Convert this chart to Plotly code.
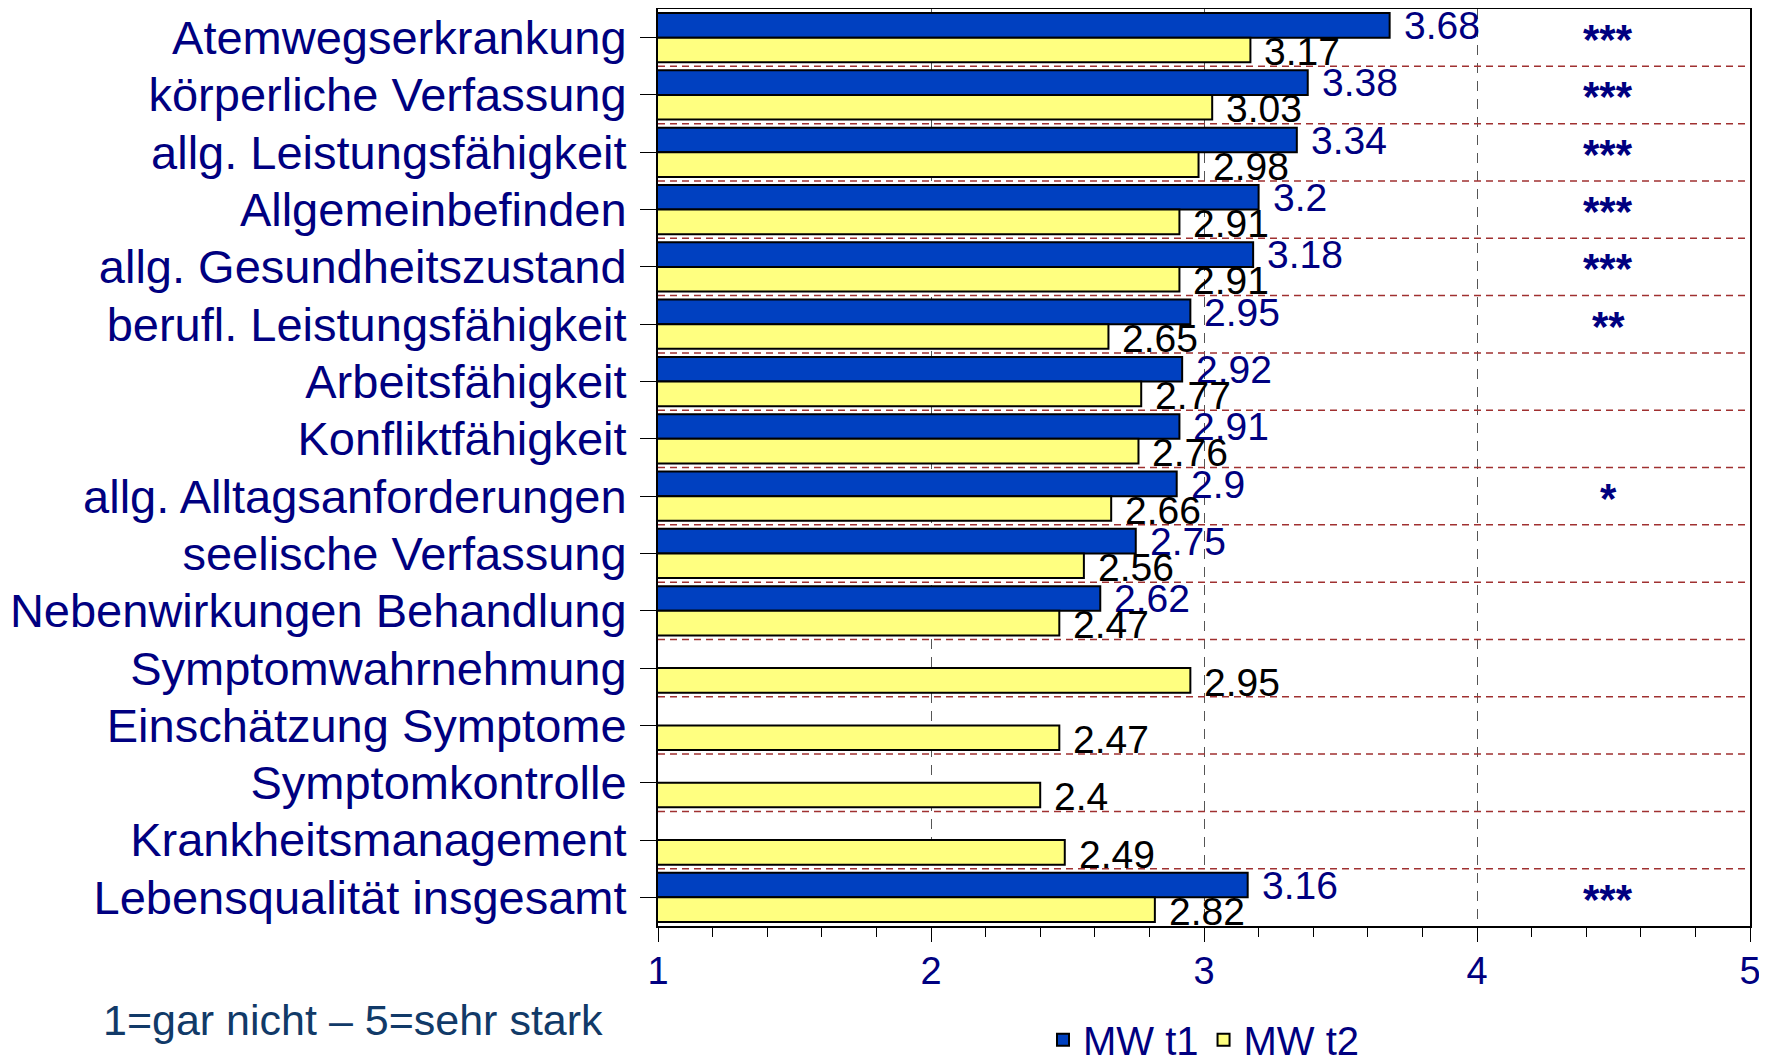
import plotly.graph_objects as go

categories = [
    "Atemwegserkrankung", "körperliche Verfassung", "allg. Leistungsfähigkeit",
    "Allgemeinbefinden", "allg. Gesundheitszustand", "berufl. Leistungsfähigkeit",
    "Arbeitsfähigkeit", "Konfliktfähigkeit", "allg. Alltagsanforderungen",
    "seelische Verfassung", "Nebenwirkungen Behandlung", "Symptomwahrnehmung",
    "Einschätzung Symptome", "Symptomkontrolle", "Krankheitsmanagement",
    "Lebensqualität insgesamt",
]
mw_t1 = [3.68, 3.38, 3.34, 3.2, 3.18, 2.95, 2.92, 2.91, 2.9, 2.75, 2.62,
         None, None, None, None, 3.16]
mw_t2 = [3.17, 3.03, 2.98, 2.91, 2.91, 2.65, 2.77, 2.76, 2.66, 2.56, 2.47,
         2.95, 2.47, 2.4, 2.49, 2.82]
significance = ["***", "***", "***", "***", "***", "**", "", "", "*", "",
                "", "", "", "", "", "***"]
x_ticks = [1, 2, 3, 4, 5]
footnote = "1=gar nicht – 5=sehr stark"

NAVY = "#000080"
BLUE = "#0040C0"
YELLOW = "#FFFF80"
NARROW = "Liberation Sans Narrow, Arial Narrow, Liberation Sans, Arial, sans-serif"
SANS = "Liberation Sans, Arial, sans-serif"

fig = go.Figure()
fig.add_trace(go.Bar(
    name="MW t1", y=categories, x=mw_t1, orientation="h",
    marker=dict(color=BLUE, line=dict(color="black", width=2)),
))
fig.add_trace(go.Bar(
    name="MW t2", y=categories, x=mw_t2, orientation="h",
    marker=dict(color=YELLOW, line=dict(color="black", width=2)),
))

annotations = []
for cat, v in zip(categories, mw_t1):
    if v is not None:
        annotations.append(dict(
            x=v, y=cat, xref="x", yref="y", text=str(v), showarrow=False,
            xanchor="left", yanchor="middle", xshift=12, yshift=12,
            font=dict(family=NARROW, size=39, color=NAVY),
        ))
for cat, v in zip(categories, mw_t2):
    if v is not None:
        annotations.append(dict(
            x=v, y=cat, xref="x", yref="y", text=str(v), showarrow=False,
            xanchor="left", yanchor="middle", xshift=12, yshift=-14,
            font=dict(family=NARROW, size=39, color="black"),
        ))
for cat, s in zip(categories, significance):
    if s:
        annotations.append(dict(
            x=4.48, y=cat, xref="x", yref="y", text="<b>" + s + "</b>",
            showarrow=False, xanchor="center", yanchor="middle", yshift=-2,
            font=dict(family=SANS, size=42, color=NAVY),
        ))
annotations.append(dict(
    x=-0.51, y=-0.1025, xref="paper", yref="paper", text=footnote,
    showarrow=False, xanchor="left", yanchor="middle",
    font=dict(family=SANS, size=43, color="#113A68"),
))

shapes = []
for i in range(len(categories) - 1):
    shapes.append(dict(
        type="line", xref="paper", yref="y", x0=0, x1=1, y0=i + 0.5, y1=i + 0.5,
        line=dict(color="#A03030", width=1.5, dash="7px,5px"), layer="above",
    ))

fig.update_layout(
    width=1759, height=1053,
    margin=dict(l=650, r=17, t=1, b=135, autoexpand=False),
    paper_bgcolor="white", plot_bgcolor="white",
    barmode="group", bargap=0.14, bargroupgap=0,
    showlegend=True,
    legend=dict(orientation="h", x=0.5, xanchor="center", y=-0.124,
                yanchor="middle", font=dict(family=SANS, size=40, color=NAVY),
                bgcolor="rgba(0,0,0,0)"),
    annotations=annotations, shapes=shapes,
)
fig.update_xaxes(
    range=[1, 5], tickvals=x_ticks, ticktext=[str(t) for t in x_ticks],
    automargin=False,
    showline=True, linecolor="black", linewidth=2, mirror=True,
    ticks="outside", ticklen=14, tickcolor="black", tickwidth=1,
    ticklabelstandoff=-4,
    minor=dict(dtick=0.2, ticks="outside", ticklen=9, tickcolor="black",
               tickwidth=1, showgrid=False),
    showgrid=True, gridcolor="#555555", gridwidth=1, griddash="10px,8px",
    tickfont=dict(family=NARROW, size=38, color=NAVY),
    zeroline=False,
)
fig.update_yaxes(
    type="category", autorange=False, range=[len(categories) - 0.5, -0.5],
    automargin=False,
    tickmode="array", tickvals=categories, ticktext=categories,
    showline=True, linecolor="black", linewidth=2, mirror=True,
    ticks="outside", ticklen=16, tickcolor="black", tickwidth=1,
    ticklabelstandoff=4,
    showgrid=False,
    tickfont=dict(family=SANS, size=47, color=NAVY),
)

fig.write_html("out.html")
